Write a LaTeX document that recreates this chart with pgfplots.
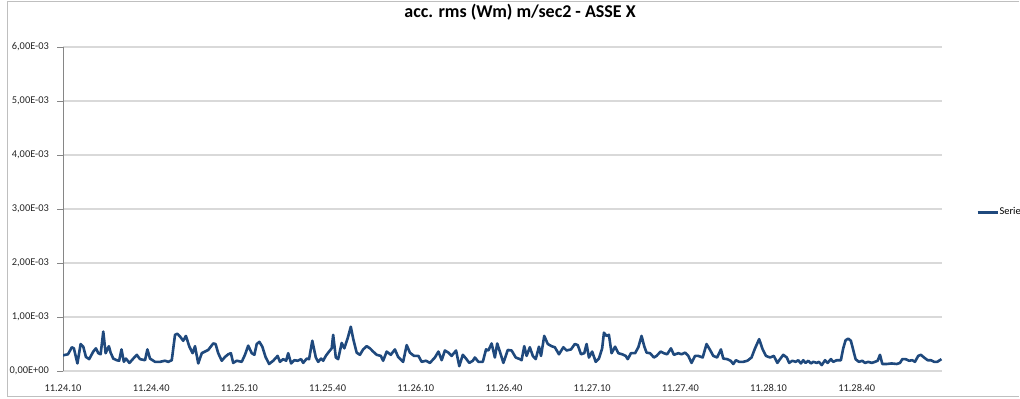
\documentclass[border=0pt]{standalone}
\usepackage{pgfplots}
\pgfplotsset{compat=1.18}
\usepackage{pgfplotstable}
\usepackage{fontspec}
\setmainfont{Carlito}
\definecolor{serie}{HTML}{1F497D}
\definecolor{gridc}{HTML}{D9D9D9}
\definecolor{axc}{HTML}{868686}
\definecolor{framec}{HTML}{BFBFBF}

\pgfplotstableread{
t v
0 0.29
1.7 0.31
3.0 0.44
3.7 0.42
4.9 0.14
6.0 0.50
6.9 0.45
7.8 0.26
8.9 0.22
10.3 0.36
11.2 0.42
12.0 0.33
12.8 0.31
13.7 0.73
14.5 0.33
15.6 0.46
16.2 0.34
17.1 0.23
18.3 0.20
19.1 0.19
19.9 0.40
20.7 0.17
21.4 0.23
22.6 0.15
23.9 0.23
25.1 0.30
26.2 0.22
27.9 0.20
28.7 0.40
29.6 0.23
31.3 0.17
33.0 0.17
34.7 0.19
35.8 0.17
37.0 0.20
38.1 0.67
38.9 0.69
39.8 0.64
40.9 0.56
41.8 0.65
43.0 0.45
44.1 0.33
44.9 0.46
46.0 0.14
47.2 0.33
48.3 0.36
49.4 0.39
51.1 0.51
51.9 0.50
52.8 0.33
54.0 0.19
55.1 0.26
56.2 0.31
57.1 0.33
57.9 0.15
59.1 0.19
60.8 0.17
61.9 0.30
63.0 0.47
64.2 0.33
65.1 0.30
65.9 0.50
66.8 0.54
67.8 0.45
68.9 0.26
70.1 0.13
71.5 0.19
73.0 0.28
73.8 0.17
74.9 0.22
75.9 0.19
76.6 0.33
77.6 0.14
78.7 0.20
79.8 0.19
81.0 0.22
81.7 0.15
82.9 0.23
83.7 0.22
84.8 0.56
86.0 0.25
86.8 0.17
87.8 0.23
88.5 0.19
89.4 0.28
90.5 0.36
91.4 0.42
91.9 0.67
92.8 0.25
93.6 0.22
94.8 0.52
95.7 0.42
96.8 0.60
97.9 0.82
98.7 0.60
99.9 0.34
101.0 0.30
102.1 0.40
103.3 0.46
104.4 0.42
105.5 0.36
106.7 0.30
108.1 0.28
108.9 0.19
110.1 0.36
111.5 0.30
112.9 0.40
114.0 0.26
115.7 0.17
116.9 0.48
118.0 0.34
119.4 0.28
120.9 0.28
122.0 0.17
123.5 0.19
124.8 0.15
126.5 0.25
127.7 0.36
128.8 0.20
129.9 0.38
131.1 0.34
132.2 0.28
133.7 0.38
134.8 0.09
136.0 0.30
137.1 0.23
138.2 0.15
139.4 0.19
140.1 0.25
141.3 0.17
142.8 0.17
143.9 0.40
144.7 0.38
145.8 0.51
146.9 0.25
147.7 0.51
148.6 0.36
149.8 0.15
151.3 0.39
152.6 0.38
154.0 0.25
155.4 0.22
156.0 0.20
156.9 0.46
157.7 0.28
158.8 0.44
159.8 0.28
160.8 0.22
161.9 0.45
162.6 0.28
163.7 0.65
164.9 0.50
166.2 0.46
167.3 0.44
168.7 0.31
170.2 0.44
171.3 0.38
172.8 0.40
174.1 0.50
175.1 0.48
176.2 0.31
177.3 0.33
178.1 0.50
178.9 0.25
180.0 0.36
181.2 0.17
182.3 0.23
183.4 0.42
184.0 0.71
184.9 0.65
185.7 0.67
186.6 0.33
187.8 0.45
188.9 0.33
190.2 0.31
191.4 0.28
192.1 0.22
193.2 0.33
194.6 0.33
195.7 0.44
196.8 0.65
197.7 0.46
198.5 0.34
199.7 0.33
201.0 0.25
201.9 0.28
203.3 0.36
204.4 0.33
205.5 0.31
206.8 0.42
207.8 0.30
209.3 0.33
210.4 0.31
211.6 0.34
212.7 0.28
213.8 0.15
215.0 0.28
216.1 0.28
217.6 0.25
218.9 0.50
220.1 0.39
221.2 0.28
222.5 0.25
223.8 0.40
224.6 0.23
225.9 0.22
227.1 0.19
228.0 0.13
228.9 0.20
230.0 0.17
231.4 0.17
232.8 0.19
234.2 0.25
235.4 0.42
236.8 0.59
238.0 0.40
239.1 0.28
240.5 0.25
241.8 0.28
243.0 0.15
243.9 0.22
245.0 0.30
246.2 0.25
247.0 0.15
248.1 0.19
249.2 0.17
250.1 0.20
251.0 0.14
251.8 0.20
252.6 0.15
253.5 0.19
254.4 0.14
255.2 0.17
256.4 0.15
257.1 0.17
258.1 0.11
259.2 0.20
260.1 0.15
261.2 0.22
262.0 0.17
263.2 0.20
264.6 0.20
265.4 0.42
266.2 0.57
267.1 0.60
268.0 0.56
268.8 0.39
269.6 0.22
270.7 0.17
271.9 0.19
272.8 0.15
273.9 0.17
275.1 0.15
276.2 0.17
277.1 0.19
277.9 0.30
278.7 0.13
280.2 0.13
281.9 0.14
283.6 0.13
284.7 0.15
285.5 0.22
286.6 0.22
287.8 0.19
288.9 0.20
289.8 0.17
290.9 0.28
291.8 0.30
292.9 0.25
294.1 0.20
295.2 0.20
296.3 0.17
297.4 0.17
298.8 0.22
}\serie

\begin{document}
\begin{tikzpicture}
\path[use as bounding box] (0,0) rectangle (510pt,199pt);
\draw[framec, line width=0.6pt] (509.7pt,198.4pt) -- (3.7pt,198.4pt) -- (3.7pt,0.6pt) -- (509.7pt,0.6pt);
\begin{axis}[
  at={(31.5pt,13.5pt)}, anchor=south west,
  scale only axis, width=439.5pt, height=162pt,
  xmin=0, xmax=299, ymin=0, ymax=6,
  enlargelimits=false,
  axis lines=left,
  x axis line style={-, draw=gridc, line width=0.6pt},
  y axis line style={-, draw=axc, line width=0.5pt},
  ytick={0,1,2,3,4,5,6},
  yticklabels={{0,00E+00},{1,00E-03},{2,00E-03},{3,00E-03},{4,00E-03},{5,00E-03},{6,00E-03}},
  xtick={0,30,60,90,120,150,180,210,240,270},
  xticklabels={11.24.10,11.24.40,11.25.10,11.25.40,11.26.10,11.26.40,11.27.10,11.27.40,11.28.10,11.28.40},
  ymajorgrids,
  grid style={draw=gridc, line width=0.6pt},
  tick align=outside,
  major tick length=3pt,
  ytick style={draw=axc, line width=0.5pt},
  xtick style={draw=none},
  tick label style={font=\fontsize{5.2}{6}\selectfont, text=black!85},
  yticklabel style={xshift=-0.5pt},
  xticklabel style={yshift=-0.3pt},
  title={acc. rms (Wm) m/sec2 - ASSE X},
  title style={font=\fontsize{9}{11}\bfseries, at={(0.52,1.071)}, anchor=center},
  legend style={at={(1.0385,0.49)}, anchor=west, draw=none, fill=none,
    font=\fontsize{5.2}{6}\selectfont, inner sep=0pt,
    nodes={inner sep=0.4pt},
    legend cell align=left},
  legend image code/.code={\draw[#1, line width=1.3pt] (0pt,0pt) -- (10pt,0pt);},
]
\addplot[serie, line width=1.3pt, line join=round, mark=none] table[x=t, y=v] {\serie};
\addlegendentry{Serie}
\end{axis}
\end{tikzpicture}
\end{document}
